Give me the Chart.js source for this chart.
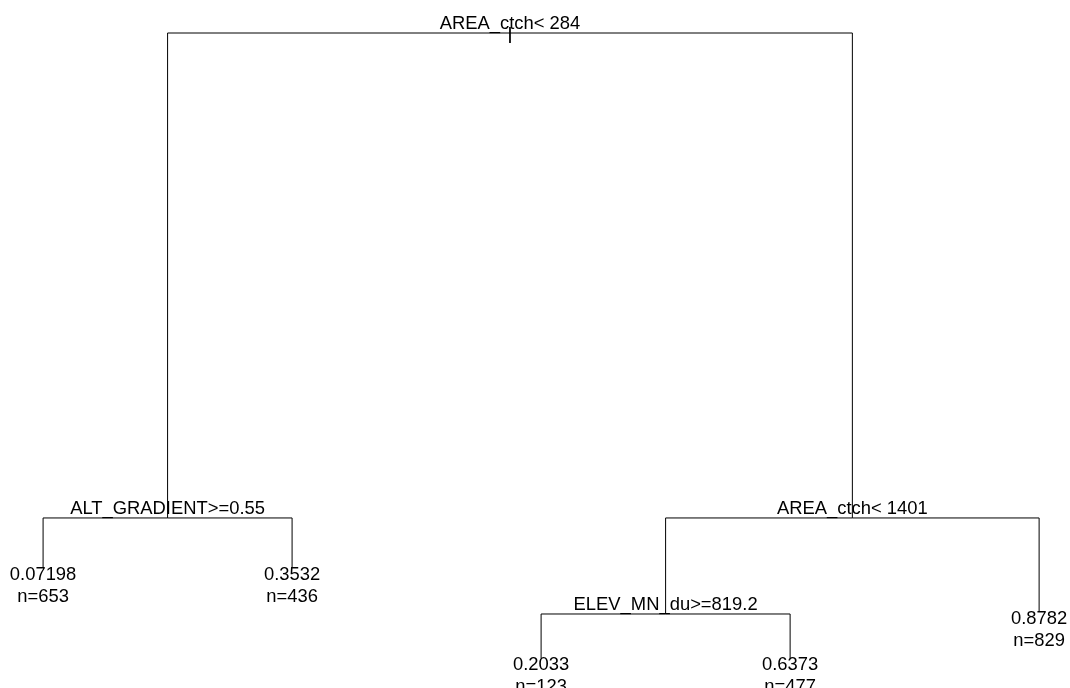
<!DOCTYPE html>
<html>
<head>
<meta charset="utf-8">
<script src="https://cdn.jsdelivr.net/npm/chart.js@4/dist/chart.umd.min.js"></script>
<style>
    html, body { margin: 0; padding: 0; background: #fff; }
    #wrap { width: 1070px; height: 688px; }
</style>
</head>
<body>
<div id="wrap"><canvas id="tree" width="1070" height="688"></canvas></div>
<script>
// Tree nodes (rpart numbering), leaf positions 1..5 along x, height along y
const nodeIds = [1, 2, 3, 4, 5, 6, 7, 12, 13];
const nodeX = [2.875, 1.5, 4.25, 1, 2, 3.5, 5, 3, 4];
const nodeY = [1, 0.2228, 0.2228, 0.1425, 0.1425, 0.0689, 0.0725, -0.002, -0.002];
const nodeParent = [0, 1, 1, 2, 2, 3, 3, 6, 6];

// Split labels for internal nodes
const splitNodes = [1, 2, 3, 6];
const splitLabels = ['AREA_ctch< 284', 'ALT_GRADIENT>=0.55', 'AREA_ctch< 1401', 'ELEV_MN_du>=819.2'];

// Leaf fitted values and counts
const leafNodes = [4, 5, 12, 13, 7];
const leafValues = ['0.07198', '0.3532', '0.2033', '0.6373', '0.8782'];
const leafCounts = [653, 436, 123, 477, 829];

// Little tick drawn on the root
const rootTick = [1.0096, 0.984];

document.addEventListener('DOMContentLoaded', function() {
    const idx = id => nodeIds.indexOf(id);

    // Build the branch polylines: child up to parent's height, then across to parent
    const branchPoints = [];
    nodeIds.forEach((id, i) => {
        const p = nodeParent[i];
        if (!p) return;
        const pi = idx(p);
        branchPoints.push({ x: nodeX[i], y: nodeY[i] });
        branchPoints.push({ x: nodeX[i], y: nodeY[pi] });
        branchPoints.push({ x: nodeX[pi], y: nodeY[pi] });
        branchPoints.push({ x: null, y: null });
    });
    const r = idx(1);
    branchPoints.push({ x: nodeX[r], y: rootTick[0] });
    branchPoints.push({ x: nodeX[r], y: rootTick[1] });

    const fontFamily = '"Liberation Sans", Arial, Helvetica, sans-serif';

    // Text labels drawn through the scales
    const labelPlugin = {
        id: 'treeLabels',
        afterDatasetsDraw(chart) {
            const ctx = chart.ctx;
            const xs = chart.scales.x;
            const ys = chart.scales.y;
            ctx.save();
            ctx.fillStyle = '#000';
            ctx.font = '18.4px ' + fontFamily;
            ctx.textAlign = 'center';
            ctx.textBaseline = 'alphabetic';

            splitNodes.forEach((id, k) => {
                const i = idx(id);
                const px = xs.getPixelForValue(nodeX[i]);
                const py = ys.getPixelForValue(nodeY[i]);
                ctx.fillText(splitLabels[k], px, py - 4);
            });

            leafNodes.forEach((id, k) => {
                const i = idx(id);
                const px = xs.getPixelForValue(nodeX[i]);
                const py = ys.getPixelForValue(nodeY[i]);
                ctx.fillText(leafValues[k], px, py + 12);
                ctx.fillText('n=' + leafCounts[k], px, py + 34);
            });
            ctx.restore();
        }
    };

    const canvas = document.getElementById('tree');
    const chart = new Chart(canvas.getContext('2d'), {
        type: 'scatter',
        data: {
            datasets: [{
                data: branchPoints,
                showLine: true,
                spanGaps: false,
                borderColor: '#000',
                borderWidth: 1,
                pointRadius: 0,
                tension: 0
            }]
        },
        options: {
            responsive: false,
            animation: false,
            devicePixelRatio: 1,
            layout: { padding: 0 },
            plugins: {
                legend: { display: false },
                tooltip: { enabled: false }
            },
            scales: {
                x: { type: 'linear', min: 0.827, max: 5.124, display: false },
                y: { type: 'linear', min: -0.0497, max: 1.0529, display: false }
            }
        },
        plugins: [labelPlugin]
    });
});
</script>
</body>
</html>
